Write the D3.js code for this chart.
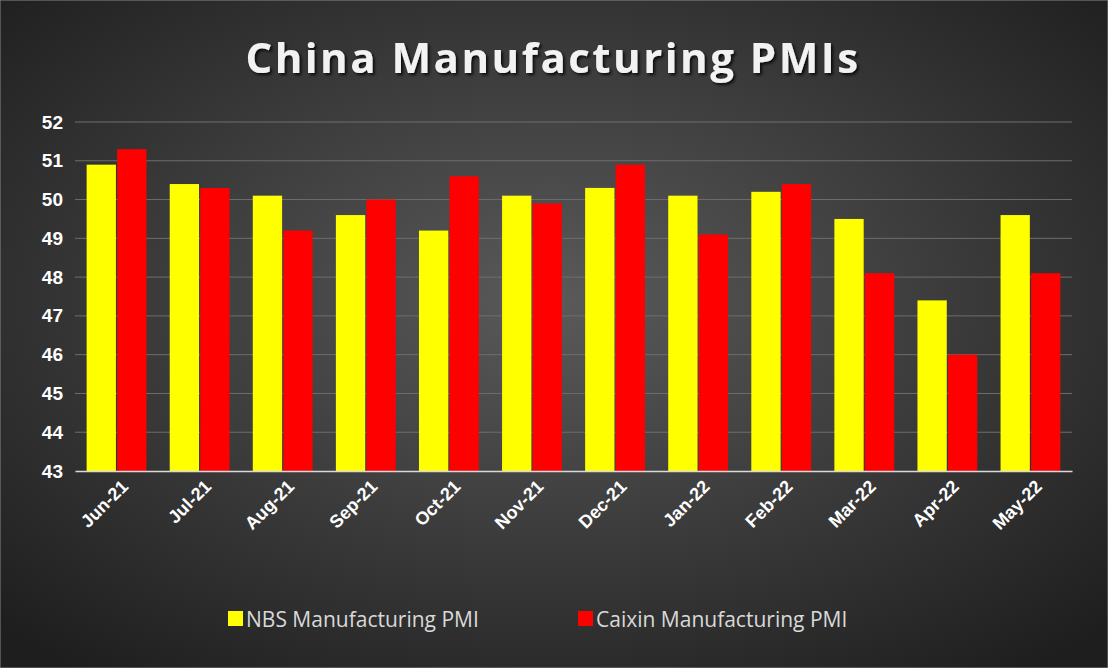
<!DOCTYPE html>
<html><head><meta charset="utf-8">
<script src="https://cdn.jsdelivr.net/npm/d3@7"></script>
<style>body{margin:0;background:#fff}</style></head>
<body><svg id="c" width="1108" height="668"></svg>
<script>
const categories=["Jun-21","Jul-21","Aug-21","Sep-21","Oct-21","Nov-21","Dec-21","Jan-22","Feb-22","Mar-22","Apr-22","May-22"];
const nbs=[50.9,50.4,50.1,49.6,49.2,50.1,50.3,50.1,50.2,49.5,47.4,49.6];
const caixin=[51.3,50.3,49.2,50.0,50.6,49.9,50.9,49.1,50.4,48.1,46.0,48.1];
const seriesNames=["NBS Manufacturing PMI","Caixin Manufacturing PMI"];
const colors=["#ffff00","#ff0000"];
const yTicks=d3.range(43,53);

const svg=d3.select("#c");
const defs=svg.append("defs");
const g=defs.append("radialGradient").attr("id","bg").attr("cx","50%").attr("cy","45%").attr("r","70%");
g.append("stop").attr("offset","0%").attr("stop-color","#5a5a5a");
g.append("stop").attr("offset","100%").attr("stop-color","#1e1e1e");
const f=defs.append("filter").attr("id","sh");
f.append("feDropShadow").attr("dx",2).attr("dy",2).attr("stdDeviation",1.5).attr("flood-color","#000").attr("flood-opacity",0.8);
svg.append("rect").attr("width",1108).attr("height",668).attr("fill","url(#bg)").attr("stroke","#888");

svg.append("text").attr("x",553).attr("y",73).attr("text-anchor","middle").attr("fill","#f2f2f2")
 .attr("font-family","Open Sans, sans-serif").attr("font-weight","bold").attr("font-size",42).attr("letter-spacing",2.5)
 .attr("filter","url(#sh)").text("China Manufacturing PMIs");

const x0=d3.scaleBand().domain(categories).range([75,1072]).paddingInner(0.28).paddingOuter(0.14);
const x1=d3.scaleBand().domain([0,1]).range([0,x0.bandwidth()]).paddingInner(0.04);
const y=d3.scaleLinear().domain([43,52]).range([471,122]);

svg.append("g").selectAll("line").data(yTicks.slice(1)).join("line")
 .attr("x1",75).attr("x2",1072).attr("y1",d=>y(d)).attr("y2",d=>y(d)).attr("stroke","#6e6e6e").attr("stroke-width",1);

const ya=svg.append("g").attr("transform","translate(75,0)").call(d3.axisLeft(y).tickValues(yTicks).tickSize(0).tickPadding(12));
ya.select(".domain").remove();
ya.selectAll("text").attr("fill","#fff").attr("font-family","Liberation Sans, Arial").attr("font-weight","bold").attr("font-size",19);

const grp=svg.append("g").selectAll("g").data(categories).join("g").attr("transform",d=>`translate(${x0(d)},0)`);
grp.selectAll("rect").data((d,i)=>[nbs[i],caixin[i]]).join("rect")
 .attr("x",(d,j)=>x1(j)).attr("width",x1.bandwidth()).attr("y",d=>y(d)).attr("height",d=>y(43)-y(d)).attr("fill",(d,j)=>colors[j]);

const xa=svg.append("g").attr("transform","translate(0,471)").call(d3.axisBottom(x0).tickSize(0).tickPadding(8));
xa.select(".domain").attr("stroke","#d9d9d9").attr("stroke-width",1.5);
xa.selectAll("text").attr("fill","#fff").attr("font-family","Liberation Sans, Arial").attr("font-weight","bold").attr("font-size",18)
 .attr("text-anchor","end").attr("transform","translate(-2,2) rotate(-45)");

const lg=svg.append("g");
const lx=[228,578];
seriesNames.forEach((n,i)=>{
 lg.append("rect").attr("x",lx[i]).attr("y",611).attr("width",15).attr("height",15).attr("fill",colors[i]);
 lg.append("text").attr("x",lx[i]+18).attr("y",627).attr("fill","#d9d9d9").attr("font-family","Open Sans, sans-serif").attr("font-size",21).text(n);
});
</script></body></html>
